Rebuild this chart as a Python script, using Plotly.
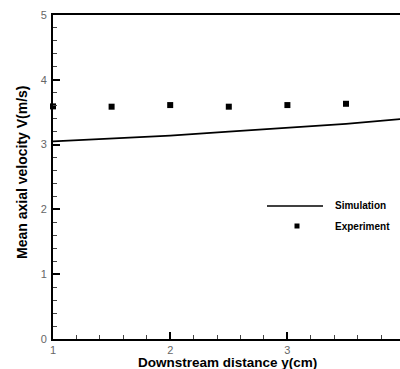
import plotly.graph_objects as go

# Data
sim_x = [1.0, 1.5, 2.0, 2.5, 3.0, 3.5, 4.0]
sim_y = [3.05, 3.09, 3.14, 3.20, 3.26, 3.32, 3.40]
exp_x = [1.0, 1.5, 2.0, 2.5, 3.0, 3.5]
exp_y = [3.59, 3.585, 3.61, 3.585, 3.61, 3.63]
x_ticks = [1, 2, 3, 4]
y_ticks = [0, 1, 2, 3, 4, 5]

fig = go.Figure()
fig.add_trace(go.Scatter(x=sim_x, y=sim_y, mode="lines",
                         line=dict(color="black", width=1.8), showlegend=False))
fig.add_trace(go.Scatter(x=exp_x, y=exp_y, mode="markers",
                         marker=dict(symbol="square", size=6, color="black"),
                         showlegend=False, cliponaxis=False))

# Custom legend
fig.add_shape(type="line", xref="paper", yref="paper", x0=(267-53)/347, x1=(323-53)/347,
              y0=(339-206)/324, y1=(339-206)/324, line=dict(color="black", width=1.5))
fig.add_trace(go.Scatter(x=[1 + (297-53)/117.2], y=[(339-226)/64.8], mode="markers",
                         marker=dict(symbol="square", size=5, color="black"), showlegend=False))
legfont = dict(family="Liberation Sans Narrow, Arial Narrow, Liberation Sans", size=10, color="black")
fig.add_annotation(xref="paper", yref="paper", x=(333-53)/347, y=(339-206)/324, text="<b>Simulation</b>",
                   showarrow=False, xanchor="left", yanchor="middle", font=legfont)
fig.add_annotation(xref="paper", yref="paper", x=(333-53)/347, y=(339-226)/324, text="<b>Experiment</b>",
                   showarrow=False, xanchor="left", yanchor="middle", font=legfont)

# Axis titles
fig.add_annotation(xref="paper", yref="paper", x=(227-53)/347, y=-(362-339)/324,
                   text="<b>Downstream distance y(cm)</b>", showarrow=False,
                   xanchor="center", yanchor="middle",
                   font=dict(family="Liberation Sans, Arial", size=13.5, color="black"))
fig.add_annotation(xref="paper", yref="paper", x=-(53-22)/347, y=(339-172)/324,
                   text="<b>Mean axial velocity V(m/s)</b>", showarrow=False, textangle=-90,
                   xanchor="center", yanchor="middle",
                   font=dict(family="Liberation Sans, Arial", size=14, color="black"))

axis_common = dict(showgrid=False, zeroline=False, showline=True, linecolor="black", linewidth=2,
                   ticks="inside", ticklen=7, tickwidth=1.5, tickcolor="black",
                   tickfont=dict(family="Liberation Sans, Arial", size=11, color="#666666"))

fig.update_xaxes(range=[1, 1 + 347/117.2], tickvals=x_ticks, mirror=True, ticklabelstandoff=0,
                 minor=dict(dtick=0.2, tick0=1, ticks="inside", ticklen=4, tickwidth=1, tickcolor="#444"),
                 **axis_common)
fig.update_yaxes(range=[0, 5], tickvals=y_ticks, ticklabelstandoff=2,
                 minor=dict(dtick=0.2, tick0=0, ticks="inside", ticklen=4, tickwidth=1, tickcolor="#444"),
                 **axis_common)

fig.update_layout(width=400, height=369, margin=dict(l=53, r=0, t=15, b=30),
                  plot_bgcolor="white", paper_bgcolor="white")

fig.write_html("out.html")
